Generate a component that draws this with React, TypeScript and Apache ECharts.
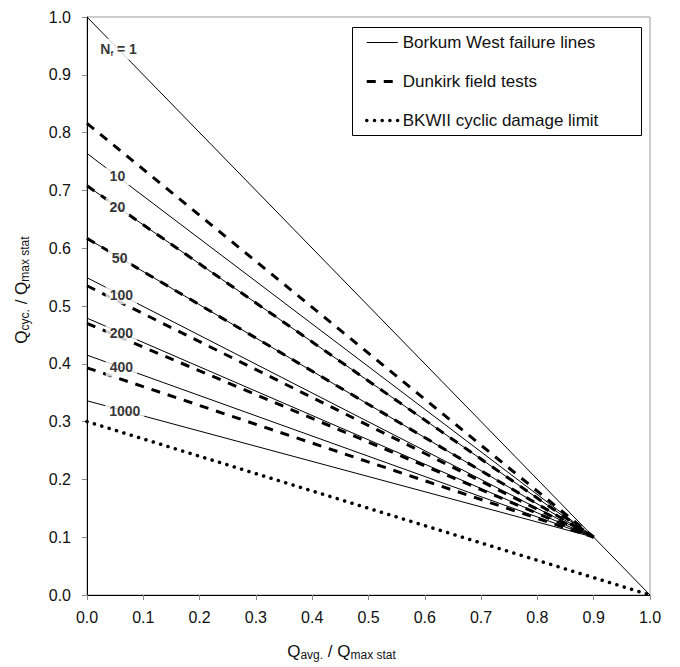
import React, { useEffect, useRef } from 'react';
import * as echarts from 'echarts';

// Convergence point of failure lines
const convergeX = 0.9;
const convergeY = 0.1;
// Borkum West failure lines (N_f = 10 ... 1000): intercepts at Q_avg = 0
const borkumIntercepts = [0.764, 0.708, 0.617, 0.549, 0.479, 0.415, 0.336];
// N_f = 1 line
const nf1Line = [[0, 1.0], [1.0, 0.0]];
// Dunkirk field tests: intercepts at Q_avg = 0
const dunkirkIntercepts = [0.816, 0.708, 0.617, 0.535, 0.47, 0.393];
// BKWII cyclic damage limit
const damageLimit = [[0, 0.3], [1.0, 0.0]];
// Line labels
const labelTexts = ['{b|N}{s|f}{b| = 1}', '10', '20', '50', '100', '200', '400', '1000'];
const labelIntercepts = [1.0, 0.764, 0.708, 0.617, 0.549, 0.479, 0.415, 0.336];
const labelX = [0.056, 0.054, 0.054, 0.058, 0.061, 0.061, 0.061, 0.067];

const FONT = 'Liberation Sans, Arial, Helvetica, sans-serif';
const BORKUM = 'Borkum West failure lines';
const DUNKIRK = 'Dunkirk field tests';
const LIMIT = 'BKWII cyclic damage limit';

export default function App() {
  const ref = useRef<HTMLDivElement>(null);
  useEffect(() => {
    if (!ref.current) return;
    const chart = echarts.init(ref.current, null, { renderer: 'svg' });
    const series: any[] = [];
    series.push({
      name: BORKUM, type: 'line', data: nf1Line, showSymbol: false, symbol: 'none', color: '#000',
      lineStyle: { color: '#000', width: 1 }, z: 2,
    });
    borkumIntercepts.forEach((y0) => {
      series.push({
        name: BORKUM, type: 'line', data: [[0, y0], [convergeX, convergeY]], showSymbol: false, symbol: 'none', color: '#000',
        lineStyle: { color: '#000', width: 1 }, z: 2,
      });
    });
    dunkirkIntercepts.forEach((y0) => {
      series.push({
        name: DUNKIRK, type: 'line', data: [[0, y0], [convergeX, convergeY]], showSymbol: false, symbol: 'none', color: '#000',
        lineStyle: { color: '#000', width: 3, type: [9, 8] }, z: 3,
      });
    });
    series.push({
      name: LIMIT, type: 'line', data: damageLimit, showSymbol: false, symbol: 'none', color: '#000',
      lineStyle: { color: '#000', width: 3.5, type: [0.1, 7.6], cap: 'round' }, z: 3,
    });
    series.push({
      name: 'labels', type: 'scatter', symbolSize: 0, silent: true, z: 10,
      data: labelTexts.map((t, i) => {
        const y0 = labelIntercepts[i];
        const x = labelX[i];
        const y = y0 + ((convergeY - y0) / convergeX) * x;
        return { value: [x, y], name: t };
      }),
      label: {
        show: true, position: 'inside', formatter: (p: any) => p.name,
        color: '#000', fontFamily: FONT, fontSize: 14, fontWeight: 'bold',
        backgroundColor: '#fff', padding: [2, 4],
        rich: {
          b: { fontFamily: FONT, fontSize: 14, fontWeight: 'bold', color: '#000', lineHeight: 17, verticalAlign: 'middle' },
          s: { fontFamily: FONT, fontSize: 8, fontWeight: 'bold', color: '#000', lineHeight: 8, verticalAlign: 'bottom' },
        },
      },
    });

    const axisCommon = {
      type: 'value', min: 0, max: 1, interval: 0.1,
      axisLine: { show: true, lineStyle: { color: '#000', width: 1 } },
      axisTick: { show: true, inside: false, length: 5, lineStyle: { color: '#888' } },
      splitLine: { show: false },
      axisLabel: { color: '#111', fontFamily: FONT, fontSize: 16, formatter: (v: number) => v.toFixed(1) },
    };

    chart.setOption({
      animation: false,
      backgroundColor: '#fff',
      grid: { left: 87, right: 30, top: 17, bottom: 72, show: true, borderColor: '#999', borderWidth: 1, backgroundColor: 'transparent' },
      xAxis: {
        ...axisCommon,
        axisLabel: { ...axisCommon.axisLabel, margin: 14 },
        name: '{n|Q}{s|avg.}{n| / Q}{s|max stat}',
        nameLocation: 'middle', nameGap: 46,
        nameTextStyle: {
          padding: [0, 54, 0, 0],
          rich: {
            n: { fontFamily: FONT, fontSize: 17, color: '#111', lineHeight: 20, verticalAlign: 'middle' },
            s: { fontFamily: FONT, fontSize: 12, color: '#111', lineHeight: 12, verticalAlign: 'bottom' },
          },
        },
      },
      yAxis: {
        ...axisCommon,
        axisLabel: { ...axisCommon.axisLabel, margin: 16 },
        name: '{n|Q}{s|cyc.}{n| / Q}{s|max stat}',
        nameLocation: 'middle', nameGap: 56,
        nameTextStyle: {
          padding: [0, 0, 0, 32],
          rich: {
            n: { fontFamily: FONT, fontSize: 17, color: '#111', lineHeight: 20, verticalAlign: 'middle' },
            s: { fontFamily: FONT, fontSize: 12, color: '#111', lineHeight: 12, verticalAlign: 'bottom' },
          },
        },
      },
      legend: {
        data: [BORKUM, DUNKIRK, LIMIT],
        orient: 'vertical', left: 365, top: 34, padding: 0,
        itemWidth: 31, itemHeight: 16, itemGap: 22, itemTextGap: 9,
        itemStyle: { opacity: 0 },
        lineStyle: { width: 'inherit' },
        textStyle: { color: '#111', fontFamily: FONT, fontSize: 17 },
        selectedMode: false,
      },
      graphic: [
        { type: 'rect', left: 352, top: 27, shape: { width: 289, height: 108 }, style: { fill: '#fff', stroke: '#000', lineWidth: 1 }, z: 0 },
      ],
      series,
    });
    return () => chart.dispose();
  }, []);
  return <div ref={ref} style={{ position: 'fixed', left: 0, top: 0, width: 680, height: 667 }} />;
}
